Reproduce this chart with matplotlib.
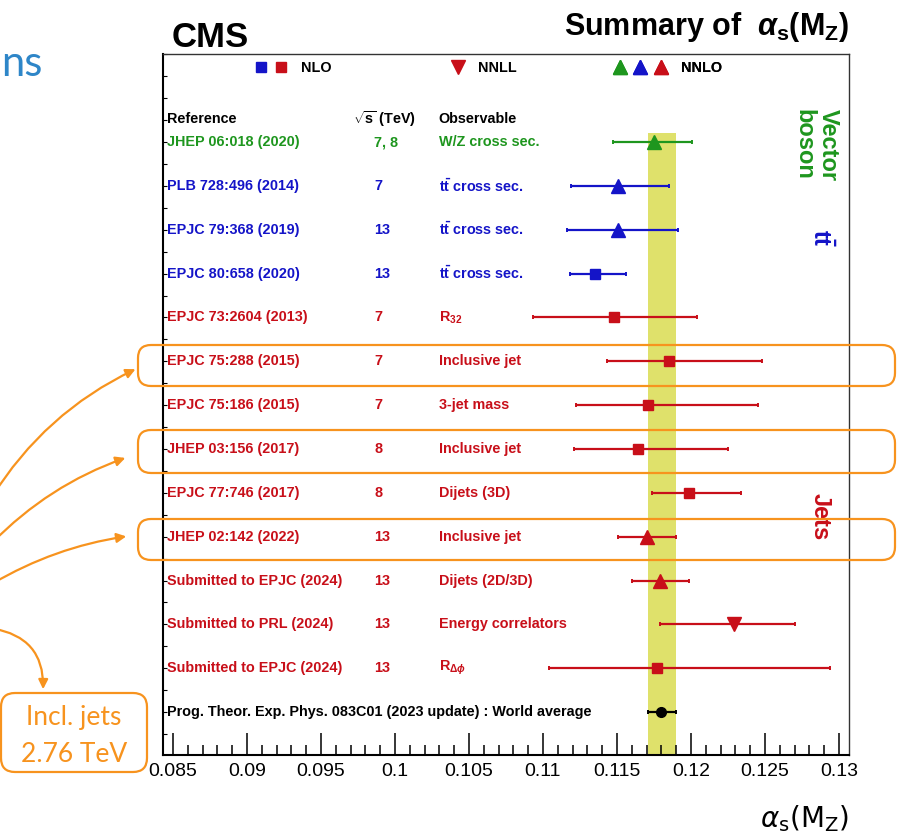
import numpy as np
import matplotlib
matplotlib.use('Agg')
import matplotlib.pyplot as plt
from matplotlib.lines import Line2D
from matplotlib.legend_handler import HandlerTuple
from matplotlib.patches import FancyBboxPatch, FancyArrowPatch
from matplotlib.ticker import MultipleLocator, FuncFormatter

plt.rcParams['font.family'] = ['Liberation Sans', 'DejaVu Sans']
plt.rcParams['mathtext.fontset'] = 'custom'
plt.rcParams['mathtext.rm'] = 'Liberation Sans:bold'
plt.rcParams['mathtext.bf'] = 'Liberation Sans:bold'
plt.rcParams['mathtext.it'] = 'Liberation Sans:bold:italic'

# ---- data ----
refs = ['JHEP 06:018 (2020)', 'PLB 728:496 (2014)', 'EPJC 79:368 (2019)',
        'EPJC 80:658 (2020)', 'EPJC 73:2604 (2013)', 'EPJC 75:288 (2015)',
        'EPJC 75:186 (2015)', 'JHEP 03:156 (2017)', 'EPJC 77:746 (2017)',
        'JHEP 02:142 (2022)', 'Submitted to EPJC (2024)', 'Submitted to PRL (2024)',
        'Submitted to EPJC (2024)',
        'Prog. Theor. Exp. Phys. 083C01 (2023 update) : World average']
energies = ['7, 8', '7', '13', '13', '7', '7', '7', '8', '8', '13', '13', '13', '13', '']
observables = ['W/Z cross sec.', r'$\mathrm{t\bar{t}}$ cross sec.',
               r'$\mathrm{t\bar{t}}$ cross sec.', r'$\mathrm{t\bar{t}}$ cross sec.',
               r'R$_{32}$', 'Inclusive jet', '3-jet mass', 'Inclusive jet',
               'Dijets (3D)', 'Inclusive jet', 'Dijets (2D/3D)',
               'Energy correlators', r'R$_{\Delta\phi}$', '']
alphas = [0.1175, 0.1151, 0.1151, 0.1135, 0.1148, 0.1185, 0.1171,
          0.1164, 0.1199, 0.1170, 0.1179, 0.1229, 0.1177, 0.1180]
err_lo = [0.0028, 0.0032, 0.0035, 0.0017, 0.0055, 0.0042, 0.0049,
          0.0043, 0.0025, 0.0019, 0.0019, 0.0050, 0.0073, 0.0009]
err_hi = [0.0026, 0.0034, 0.0040, 0.0021, 0.0056, 0.0063, 0.0074,
          0.0061, 0.0035, 0.0020, 0.0020, 0.0041, 0.0117, 0.0010]
groups = ['V', 'tt', 'tt', 'tt', 'jets', 'jets', 'jets', 'jets', 'jets',
          'jets', 'jets', 'jets', 'jets', 'wa']
orders = ['NNLO', 'NNLO', 'NNLO', 'NLO', 'NLO', 'NLO', 'NLO', 'NLO', 'NLO',
          'NNLO', 'NNLO', 'NNLL', 'NLO', 'WA']

GREEN = '#1e961e'
BLUE = '#1414c8'
RED = '#c80f19'
ORANGE = '#f7931e'
group_color = {'V': GREEN, 'tt': BLUE, 'jets': RED, 'wa': 'black'}
order_marker = {'NLO': ('s', 7.5), 'NNLO': ('^', 9.5), 'NNLL': ('v', 9.5), 'WA': ('o', 7)}

n = len(refs)
fig = plt.figure(figsize=(8.97, 8.36), dpi=100)
ax = fig.add_axes([163 / 897, 1 - 755 / 836, 686 / 897, 701 / 836])
ax.set_xlim(0.08432, 0.13068)
ax.set_ylim(n - 0.02, -2.01)

# world average band
wa = alphas[-1]
ax.fill_betweenx([-0.205, n], wa - err_lo[-1], wa + err_hi[-1],
                 color='#dfe16b', lw=0, zorder=1)

for i in range(n):
    c = group_color[groups[i]]
    m, ms = order_marker[orders[i]]
    ax.errorbar(alphas[i], i, xerr=[[err_lo[i]], [err_hi[i]]], fmt=m, ms=ms,
                color=c, elinewidth=1.6, capsize=1.6, capthick=1.4, zorder=3)

# text columns
tr = ax.get_yaxis_transform()
fs = 10.4
for i in range(n):
    c = group_color[groups[i]]
    ax.text(0.006, i, refs[i], color=c, fontsize=fs, fontweight='bold', va='center', transform=tr)
    ax.text(0.3076, i, energies[i], color=c, fontsize=fs, fontweight='bold', va='center', transform=tr)
    ax.text(0.402, i, observables[i], color=c, fontsize=fs, fontweight='bold', va='center', transform=tr)
ax.text(0.006, -0.52, 'Reference', fontsize=fs, fontweight='bold', va='center', transform=tr)
ax.text(0.277, -0.52, r'$\sqrt{\mathrm{s}}$ (TeV)', fontsize=fs, fontweight='bold', va='center', transform=tr)
ax.text(0.402, -0.52, 'Observable', fontsize=fs, fontweight='bold', va='center', transform=tr)

# group labels on the right
ax.text(0.952, 0.06, 'Vector\nboson', color=GREEN, fontsize=17, fontweight='bold',
        rotation=-90, ha='center', va='center', transform=tr, linespacing=1.05)
ax.text(0.9585, 2.19, r'$\mathrm{t\bar{t}}$', color=BLUE, fontsize=17,
        rotation=-90, ha='center', va='center', transform=tr)
ax.text(0.9585, 8.55, 'Jets', color=RED, fontsize=17, fontweight='bold',
        rotation=-90, ha='center', va='center', transform=tr)

# key
key_entries = [('NLO', [BLUE, RED], 's', 7.5, 0.128),
               ('NNLL', [RED], 'v', 9.5, 0.4155),
               ('NNLO', [GREEN, BLUE, RED], '^', 9.5, 0.6516)]
for label, cols, m, ms, x0 in key_entries:
    hs = tuple(Line2D([], [], ls='none', marker=m, ms=ms, color=c) for c in cols)
    leg = ax.legend([hs], [label], handler_map={tuple: HandlerTuple(ndivide=None, pad=0)},
                    handlelength=1.4 * len(cols), handletextpad=0.7, loc='center left',
                    bbox_to_anchor=(x0, 0.980), frameon=False, borderpad=0,
                    borderaxespad=0, prop={'weight': 'bold', 'size': fs})
    ax.add_artist(leg)

# axes styling
ax.xaxis.set_major_locator(MultipleLocator(0.005))
ax.xaxis.set_minor_locator(MultipleLocator(0.001))
ax.xaxis.set_major_formatter(FuncFormatter(lambda v, p: '%g' % round(v, 4)))
ax.tick_params(axis='x', which='major', direction='in', length=16, width=1.1,
               labelsize=14, pad=6)
ax.tick_params(axis='x', which='minor', direction='in', length=7, width=1.1)
ax.yaxis.set_major_locator(MultipleLocator(0.5))
ax.tick_params(axis='y', which='both', direction='in', length=3, width=0.8, labelleft=False)
for s in ['left', 'bottom']:
    ax.spines[s].set_linewidth(1.5)
for s in ['top', 'right']:
    ax.spines[s].set_linewidth(1.0)
    ax.spines[s].set_color('#333333')

ax.set_title('CMS', loc='left', x=0.012, y=1.0, pad=5, fontsize=25, fontweight='bold')
ax.set_title(r'Summary of  $\alpha_{\mathrm{s}}(\mathrm{M}_{\mathrm{Z}})$', loc='right',
             y=1.017, pad=5, fontsize=22, fontweight='bold')
ax.set_xlabel(r'$\alpha_{\mathrm{s}}(\mathrm{M}_{\mathrm{Z}})$', fontsize=20,
              math_fontfamily='dejavusans')
ax.xaxis.set_label_coords(1.0, -0.1027)
ax.xaxis.label.set_ha('right')
ax.xaxis.label.set_va('baseline')

# slide annotations (pixel coordinates)
ov = fig.add_axes([0, 0, 1, 1], zorder=5)
ov.set_xlim(0, 897)
ov.set_ylim(836, 0)
ov.axis('off')
ov.patch.set_alpha(0)
for y0, h in [(345, 41), (430, 43), (519, 41)]:
    ov.add_patch(FancyBboxPatch((138, y0), 757, h, boxstyle='round,pad=0,rounding_size=13',
                                fill=False, ec=ORANGE, lw=1.6))
ov.add_patch(FancyBboxPatch((1, 693), 146, 79, boxstyle='round,pad=0,rounding_size=14',
                            fill=False, ec=ORANGE, lw=1.6))
for a, b, rad in [((-10, 500), (138, 368), -0.15), ((-10, 545), (128, 457), -0.12),
                  ((-10, 585), (129, 536), -0.1), ((-10, 628), (43, 692), -0.45)]:
    ov.add_patch(FancyArrowPatch(a, b, connectionstyle='arc3,rad=%g' % rad,
                                 arrowstyle='-|>', mutation_scale=14, color=ORANGE, lw=1.6))
ov.text(74, 717, 'Incl. jets', color=ORANGE, fontsize=19, family='Lato', ha='center', va='center')
ov.text(74, 754, '2.76 TeV', color=ORANGE, fontsize=19, family='Lato', ha='center', va='center')
ov.text(1, 76, 'ns', color='#2e86c8', fontsize=30, family='Lato', ha='left', va='baseline')

plt.savefig('out.png', dpi=100)
